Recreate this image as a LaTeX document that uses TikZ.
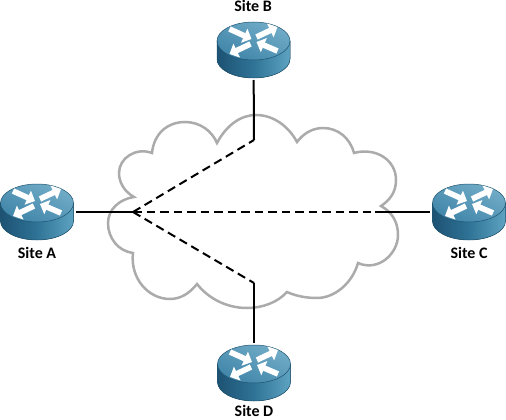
\documentclass[tikz,border=0pt]{standalone}
\usepackage{fontspec}
\setmainfont{Carlito}
\usetikzlibrary{positioning,calc,arrows.meta}
\definecolor{cloudgray}{HTML}{ABABAB}
\definecolor{topdark}{HTML}{3F84A8}
\definecolor{toplight}{HTML}{72ADC8}
\definecolor{sidedark}{HTML}{1D5273}
\definecolor{sidemid}{HTML}{2F7396}
\definecolor{sidelight}{HTML}{5FA3C2}
\definecolor{rimcol}{HTML}{1F5470}
\tikzset{
  routerarrow/.style={white,line width=5.6pt,-{Triangle[length=8pt,width=15pt]}},
  pics/routerpic/.style={code={
    \fill[left color=sidedark,right color=sidelight,middle color=sidemid]
      (-36.5,-9) -- (-36.5,9) arc[start angle=180,end angle=0,x radius=36.5,y radius=19] -- (36.5,-9) -- cycle;
    \shade[top color=toplight,bottom color=topdark,shading angle=-25]
      (0,-9) ellipse[x radius=36.5,y radius=19];
    \draw[rimcol,line width=0.5pt] (0,-9) ellipse[x radius=36.5,y radius=19];
    \draw[rimcol,line width=0.5pt] (-36.5,-9) -- (-36.5,9) arc[start angle=180,end angle=0,x radius=36.5,y radius=19] -- (36.5,-9);
    \draw[routerarrow] (-24,-21) -- (-2,-11);
    \draw[routerarrow] (3,-13) -- (24,-23);
    \draw[routerarrow] (-3,-6) -- (-24,4);
    \draw[routerarrow] (24,1) -- (3,-8);
  }}
}
\newcommand{\router}[2]{%
  \node[routerbox] (#1) at (#2) {};
  \pic at (#2) {routerpic};
}
\begin{document}
\begin{tikzpicture}[x=1pt,y=-1pt,
  routerbox/.style={minimum width=78pt,minimum height=60pt,inner sep=0pt,outer sep=0pt},
  sitelabel/.style={font=\bfseries\fontsize{16}{18}\selectfont,text=black,inner sep=0pt},
  cloudline/.style={draw=cloudgray,line width=2.5pt},
  link/.style={black,line width=2pt},
  tunnel/.style={black,line width=2pt,dash pattern=on 8.5pt off 5pt}]
\useasboundingbox (0,0) rectangle (506,420);
% cloud
\draw[cloudline] (152,153)
  .. controls (154,133) and (168,122) .. (185,122)
  .. controls (200,122) and (212,131) .. (217,143)
  .. controls (226,126) and (240,115) .. (256,115)
  .. controls (274,115) and (289,127) .. (297,142)
  .. controls (303,134) and (312,128) .. (323,128)
  .. controls (338,128) and (350,138) .. (354,153)
  .. controls (376,147) and (396,160) .. (396,180)
  .. controls (396,192) and (390,200) .. (381,206)
  .. controls (392,212) and (398,222) .. (398,235)
  .. controls (398,254) and (378,272) .. (358,263)
  .. controls (352,284) and (334,298) .. (317,298)
  .. controls (306,298) and (296,296) .. (287,292)
  .. controls (278,302) and (263,308) .. (247,308)
  .. controls (226,308) and (208,298) .. (197,284)
  .. controls (189,294) and (180,299) .. (170,299)
  .. controls (148,299) and (130,278) .. (133,253)
  .. controls (118,251) and (108,238) .. (108,223)
  .. controls (108,209) and (120,199) .. (134,197)
  .. controls (125,192) and (119,183) .. (119,173)
  .. controls (119,158) and (136,147) .. (152,153) -- cycle;
% routers
\router{siteA}{37,212}
\router{siteB}{253.5,50}
\router{siteC}{469,212}
\router{siteD}{254,373}
\node[sitelabel] (labelA) at (37,253) {Site A};
\node[sitelabel] (labelB) at (253,6) {Site B};
\node[sitelabel] (labelC) at (469,253) {Site C};
\node[sitelabel] (labelD) at (254,411) {Site D};
% tunnel ends
\coordinate (hub) at (133,212);
\coordinate (endB) at (254,140);
\coordinate (endC) at (375,212);
\coordinate (endD) at (254,283);
\draw[link] (siteA) -- (hub);
\draw[link] (siteB) -- (endB);
\draw[link] (siteC) -- (endC);
\draw[link] (siteD) -- (endD);
\draw[tunnel] (hub) -- (endB);
\draw[tunnel] (hub) -- (endC);
\draw[tunnel] (hub) -- (endD);
\end{tikzpicture}
\end{document}
